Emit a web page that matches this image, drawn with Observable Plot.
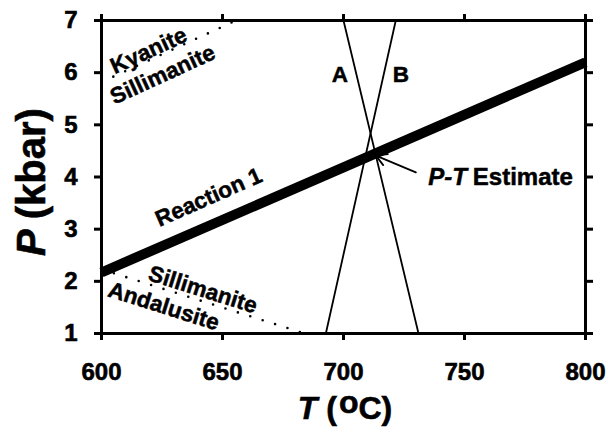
<!DOCTYPE html>
<html><head><meta charset="utf-8">
<script src="https://cdn.jsdelivr.net/npm/d3@7"></script>
<script src="https://cdn.jsdelivr.net/npm/@observablehq/plot@0.6"></script>
<style>body{margin:0;background:#fff;} svg{display:block;}</style>
</head><body><div id="chart"></div>
<script>
const temperatureTicks = [600, 650, 700, 750, 800];
const pressureTicks = [1, 2, 3, 4, 5, 6, 7];
const reaction1T = [600, 800];
const reaction1P = [2.17, 6.2];
const lineAT = [700, 731];
const lineAP = [7, 1];
const lineBT = [721.6, 692.7];
const lineBP = [7, 1];
const kyaniteSillimaniteT = [600, 655.6];
const kyaniteSillimaniteP = [5.82, 7];
const sillimaniteAndalusiteT = [600, 684];
const sillimaniteAndalusiteP = [2.23, 1];
const labelTexts = ["Kyanite", "Sillimanite", "Reaction 1", "Sillimanite", "Andalusite", "A", "B"];
const labelT = [619.5, 625.3, 644.3, 641.9, 625.7, 698.5, 723.7];
const labelP = [6.42, 5.96, 3.61, 1.84, 1.52, 5.96, 5.96];
const labelAngle = [-24.6, -24.6, -23.8, 17.5, 17.5, 0, 0];
const estimateArrowT = [729.9, 713.4];
const estimateArrowP = [4.09, 4.41];
const estimateLabelT = [735.2];
const estimateLabelP = [3.99];

const FONT = "'Liberation Sans', Arial, Helvetica, sans-serif";

const seg = (T, P) => T.map((t, i) => ({T: t, P: P[i]}));
const labels = labelTexts.map((s, i) => ({s, T: labelT[i], P: labelP[i], a: labelAngle[i]}));

const chart = Plot.plot({
  width: 608,
  height: 432,
  marginLeft: 101,
  marginRight: 23,
  marginTop: 20,
  marginBottom: 99,
  style: {background: "#fff", fontFamily: FONT, color: "#000"},
  x: {domain: [600, 800]},
  y: {domain: [1, 7]},
  marks: [
    Plot.line(seg(kyaniteSillimaniteT, kyaniteSillimaniteP), {x: "T", y: "P", stroke: "#000", strokeWidth: 2.6, strokeDasharray: "0,13", strokeLinecap: "round"}),
    Plot.line(seg(sillimaniteAndalusiteT, sillimaniteAndalusiteP), {x: "T", y: "P", stroke: "#000", strokeWidth: 2.6, strokeDasharray: "0,13", strokeLinecap: "round"}),
    Plot.line(seg(lineAT, lineAP), {x: "T", y: "P", stroke: "#000", strokeWidth: 1.8}),
    Plot.line(seg(lineBT, lineBP), {x: "T", y: "P", stroke: "#000", strokeWidth: 1.8}),
    Plot.line(seg(reaction1T, reaction1P), {x: "T", y: "P", stroke: "#000", strokeWidth: 10, strokeLinecap: "butt"}),
    Plot.arrow([0], {x1: () => estimateArrowT[0], y1: () => estimateArrowP[0], x2: () => estimateArrowT[1], y2: () => estimateArrowP[1], stroke: "#000", strokeWidth: 1.8, headLength: 10}),
    Plot.text(labels, {x: "T", y: "P", text: "s", rotate: "a", fontSize: 22.5, fontWeight: "bold", fill: "#000", stroke: "#000", strokeWidth: 0.5, fontFamily: FONT}),
    Plot.frame({stroke: "#000", strokeWidth: 3}),
    Plot.axisX({anchor: "bottom", ticks: temperatureTicks, tickSize: 7, tickPadding: 22, tickFormat: d3.format("d"), fontSize: 24, fontWeight: "bold", strokeWidth: 3, label: null, fill: "#000"}),
    Plot.axisX({anchor: "top", ticks: temperatureTicks, tickSize: 7, tickFormat: () => "", strokeWidth: 3, label: null}),
    Plot.axisY({anchor: "left", ticks: pressureTicks, tickSize: 7, tickPadding: 17, tickFormat: d3.format("d"), fontSize: 24, fontWeight: "bold", strokeWidth: 3, label: null, fill: "#000"}),
    Plot.axisY({anchor: "right", ticks: pressureTicks, tickSize: 7, tickFormat: () => "", strokeWidth: 3, label: null})
  ]
});
document.getElementById("chart").appendChild(chart);

const sx = chart.scale("x"), sy = chart.scale("y");
const svg = d3.select(chart);

// heavier tick labels, like the scanned original
svg.selectAll('g[aria-label$="tick label"]').attr("stroke", "#000").attr("stroke-width", 0.6);

// P-T Estimate label
const est = svg.append("text")
  .attr("x", sx.apply(estimateLabelT[0]))
  .attr("y", sy.apply(estimateLabelP[0]))
  .attr("dy", "0.35em")
  .attr("text-anchor", "start")
  .attr("font-family", FONT).attr("font-size", 24).attr("font-weight", "bold")
  .attr("fill", "#000").attr("stroke", "#000").attr("stroke-width", 0.5);
est.append("tspan").attr("font-style", "italic").text("P-T");
est.append("tspan").attr("dx", 6).text("Estimate");

// x axis label
const xl = svg.append("text")
  .attr("x", sx.apply(700) + 2)
  .attr("y", 419)
  .attr("text-anchor", "middle")
  .attr("font-family", FONT).attr("font-size", 32).attr("font-weight", "bold")
  .attr("fill", "#000").attr("stroke", "#000").attr("stroke-width", 0.6);
xl.append("tspan").attr("font-style", "italic").text("T");
xl.append("tspan").attr("dx", 9).text("(");
xl.append("tspan").attr("dx", 2).attr("dy", -6).text("o");
xl.append("tspan").attr("dy", 6).text("C)");

// y axis label
const yl = svg.append("text")
  .attr("transform", `translate(45,${182}) rotate(-90)`)
  .attr("text-anchor", "middle")
  .attr("font-family", FONT).attr("font-size", 40).attr("font-weight", "bold")
  .attr("fill", "#000").attr("stroke", "#000").attr("stroke-width", 0.6);
yl.append("tspan").attr("font-style", "italic").text("P");
yl.append("tspan").attr("dx", 10).text("(kbar)");
</script></body></html>
